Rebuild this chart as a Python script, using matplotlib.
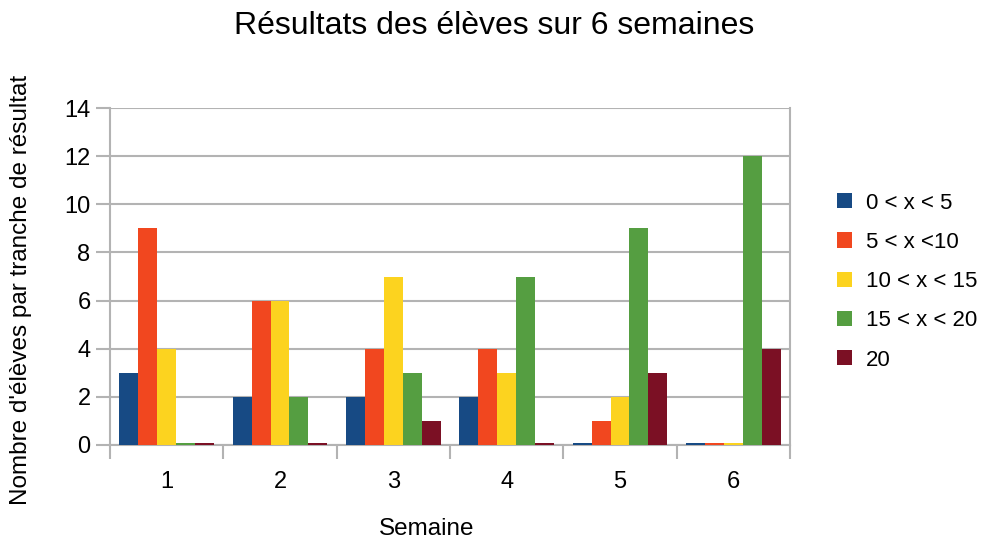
import numpy as np
import matplotlib
matplotlib.use("Agg")
import matplotlib.pyplot as plt

plt.rcParams['font.family'] = ['Liberation Sans', 'DejaVu Sans']

# data
semaines = ['1', '2', '3', '4', '5', '6']
series = ['0 < x < 5', '5 < x <10', '10 < x < 15', '15 < x < 20', '20']
v_0_5 = [3, 2, 2, 2, 0.1, 0.1]
v_5_10 = [9, 6, 4, 4, 1, 0.1]
v_10_15 = [4, 6, 7, 3, 2, 0.1]
v_15_20 = [0.1, 2, 3, 7, 9, 12]
v_20 = [0.1, 0.1, 1, 0.1, 3, 4]
values = [v_0_5, v_5_10, v_10_15, v_15_20, v_20]
colors = ['#174A84', '#F1471F', '#FCD31F', '#559E41', '#7B1024']

grid_col = '#b3b3b3'

fig = plt.figure(figsize=(10.02, 5.42), dpi=100)
ax = fig.add_axes([0.1098, 0.179, 0.6786, 0.6217])

x = np.arange(len(semaines))
w = 1 / 6
for i, (vals, c) in enumerate(zip(values, colors)):
    ax.bar(x + (i - 2) * w, vals, width=w, color=c, label=series[i], zorder=3)

ax.set_xlim(-0.5, len(semaines) - 0.5)
ax.set_ylim(0, 14)
ax.set_yticks(range(0, 15, 2))
ax.set_xticks(x)
ax.set_xticklabels(semaines)
ax.set_xticks(np.arange(-0.5, len(semaines)), minor=True)
ax.tick_params(axis='x', which='major', length=0, pad=19, labelsize=17)
ax.tick_params(axis='x', which='minor', length=10, color=grid_col, width=1.5)
ax.tick_params(axis='y', length=10, color=grid_col, width=1.5, labelsize=17, pad=4)
ax.yaxis.grid(True, color=grid_col, linewidth=1.5, zorder=0)
for s in ax.spines.values():
    s.set_color(grid_col)
    s.set_linewidth(1.5)
ax.spines['top'].set_visible(False)

ax.set_xlabel('Semaine', fontsize=17.5)
ax.xaxis.set_label_coords(0.466, -0.217)
ax.set_ylabel("Nombre d'élèves par tranche de résultat", fontsize=17.5)
ax.yaxis.set_label_coords(-0.1147, 0.46)
fig.suptitle('Résultats des élèves sur 6 semaines', fontsize=23, x=0.493, y=0.98)

leg = ax.legend(loc='center left', bbox_to_anchor=(1.04, 0.485), frameon=False,
                fontsize=16, handlelength=0.68, handleheight=0.68,
                handletextpad=0.6, labelspacing=0.82)

fig.savefig('out.png', dpi=100)
